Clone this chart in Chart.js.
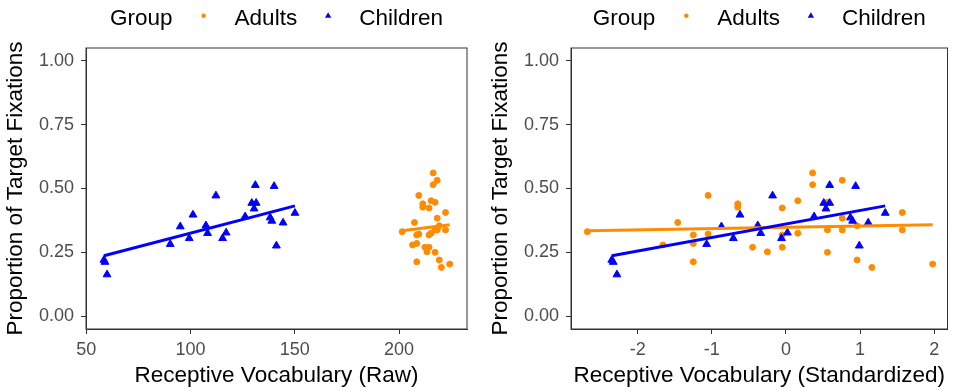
<!DOCTYPE html>
<html>
<head>
<meta charset="utf-8">
<script src="https://cdn.jsdelivr.net/npm/chart.js@4.4.1/dist/chart.umd.min.js"></script>
<style>
  html, body { margin: 0; padding: 0; background: #fff; }
  #wrap { position: relative; width: 953px; height: 391px; }
  #rawChart { position: absolute; left: 0; top: 0; }
  #zChart { position: absolute; left: 476px; top: 0; }
</style>
</head>
<body>
<div id="wrap">
  <canvas id="rawChart" width="476" height="391"></canvas>
  <canvas id="zChart" width="477" height="391"></canvas>
</div>
<script>
const groups = ['Adults', 'Children'];
const yTicks = [0, 0.25, 0.5, 0.75, 1];
const rawTicks = [50, 100, 150, 200];
const zTicks = [-2, -1, 0, 1, 2];

// children
const childRaw = [58.5, 59.0, 60.0, 90.3, 95.1, 99.4, 101.2, 107.4, 108.2, 112.2, 115.4, 117.1,
    126.2, 129.4, 131.5, 130.5, 131.1, 138.2, 139.0, 140.1, 141.2, 144.4, 150.1];
const childZ = [-2.35, -2.33, -2.28, -1.07, -0.87, -0.71, -0.62, -0.38, -0.34, -0.18, -0.06, 0.02,
    0.38, 0.51, 0.59, 0.54, 0.59, 0.87, 0.90, 0.94, 0.99, 1.11, 1.34];
const childProp = [0.220, 0.212, 0.163, 0.282, 0.351, 0.305, 0.397, 0.355, 0.325, 0.472, 0.305, 0.327,
    0.390, 0.443, 0.443, 0.421, 0.513, 0.386, 0.373, 0.509, 0.276, 0.366, 0.404];

// adults
const adultRaw = [201.5, 206.5, 207.4, 208.5, 208.5, 208.5, 209.5, 209.5, 211.4, 211.4, 212.4, 213.4,
    214.4, 214.4, 214.4, 215.4, 215.4, 216.4, 216.4, 217.3, 217.3, 217.3, 218.3, 218.3, 218.3,
    219.3, 219.3, 220.3, 222.3, 222.3, 224.3];
const adultZ = [-2.68, -1.66, -1.46, -1.25, -1.25, -1.25, -1.05, -1.05, -0.65, -0.65, -0.45, -0.25,
    -0.05, -0.05, -0.05, 0.16, 0.16, 0.36, 0.36, 0.56, 0.56, 0.56, 0.76, 0.76, 0.76,
    0.96, 0.96, 1.16, 1.57, 1.57, 1.98];
const adultProp = [0.331, 0.279, 0.367, 0.318, 0.285, 0.213, 0.473, 0.322, 0.440, 0.427, 0.270, 0.252,
    0.424, 0.318, 0.270, 0.452, 0.325, 0.561, 0.515, 0.446, 0.338, 0.250, 0.532, 0.384, 0.338,
    0.354, 0.220, 0.191, 0.406, 0.338, 0.204];

// fitted lines, end points
const childFitRaw = [58.5, 150.1];
const childFitZ = [-2.35, 1.34];
const childFitProp = [0.237, 0.432];
const adultFitRaw = [201.5, 224.3];
const adultFitZ = [-2.68, 1.98];
const adultFitProp = [0.335, 0.358];

const orange = '#FF8C00';
const blue = '#0000FF';
const family = '"Liberation Sans", Arial, sans-serif';
const titleFont = { family: family, size: 22.5 };
const tickFont = { family: family, size: 18 };

const pts = (xs, ys) => xs.map((x, i) => ({ x: x, y: ys[i] }));

// full panel border
const framePlugin = {
    id: 'frame',
    afterDraw(chart) {
        const { ctx, chartArea: a } = chart;
        ctx.save();
        ctx.strokeStyle = '#333333';
        ctx.lineWidth = 1;
        ctx.strokeRect(a.left, a.top, a.right - a.left, a.bottom - a.top);
        ctx.restore();
    }
};

// ggplot style legend: "Group  • Adults  ▲ Children" in one row over the panel
const groupLegend = {
    id: 'groupLegend',
    afterDraw(chart) {
        const { ctx, chartArea: a } = chart;
        ctx.save();
        ctx.font = '22.5px ' + family;
        ctx.fillStyle = '#000';
        ctx.textBaseline = 'alphabetic';
        const gap = 31;
        let total = ctx.measureText('Group').width;
        groups.forEach(g => { total += 2 * gap + ctx.measureText(g).width; });
        let x = (a.left + a.right) / 2 - total / 2;
        ctx.fillText('Group', x, 25);
        x += ctx.measureText('Group').width;
        groups.forEach((g, i) => {
            const cx = x + gap;
            ctx.fillStyle = i === 0 ? orange : blue;
            ctx.beginPath();
            if (i === 0) {
                ctx.arc(cx, 15.7, 2.3, 0, Math.PI * 2);
            } else {
                ctx.moveTo(cx, 12.2);
                ctx.lineTo(cx + 3.2, 17.8);
                ctx.lineTo(cx - 3.2, 17.8);
                ctx.closePath();
            }
            ctx.fill();
            ctx.fillStyle = '#000';
            ctx.fillText(g, cx + gap, 25);
            x = cx + gap + ctx.measureText(g).width;
        });
        ctx.restore();
    }
};

function makeChart(id, xTitle, xMin, xMax, xTicks, childX, adultX, childFitX, adultFitX, padLeft, padRight) {
    const ctx = document.getElementById(id).getContext('2d');
    return new Chart(ctx, {
        type: 'scatter',
        data: {
            datasets: [
                {
                    label: 'Children fit',
                    data: pts(childFitX, childFitProp),
                    showLine: true,
                    borderColor: blue,
                    borderWidth: 3,
                    pointRadius: 0
                },
                {
                    label: 'Adults fit',
                    data: pts(adultFitX, adultFitProp),
                    showLine: true,
                    borderColor: orange,
                    borderWidth: 3,
                    pointRadius: 0
                },
                {
                    label: groups[1],
                    data: pts(childX, childProp),
                    pointStyle: 'triangle',
                    pointRadius: 4.5,
                    pointBorderWidth: 1,
                    backgroundColor: blue,
                    borderColor: blue
                },
                {
                    label: groups[0],
                    data: pts(adultX, adultProp),
                    pointStyle: 'circle',
                    pointRadius: 3,
                    pointBorderWidth: 1,
                    backgroundColor: orange,
                    borderColor: orange
                }
            ]
        },
        options: {
            responsive: false,
            animation: false,
            layout: { padding: { top: 48, left: padLeft, right: padRight, bottom: 0 } },
            plugins: {
                legend: { display: false },
                tooltip: { enabled: false }
            },
            scales: {
                x: {
                    type: 'linear',
                    min: xMin,
                    max: xMax,
                    afterBuildTicks: s => { s.ticks = xTicks.map(v => ({ value: v })); },
                    afterFit: s => { s.height = 62; },
                    ticks: { color: '#4d4d4d', font: tickFont, padding: 5, maxRotation: 0 },
                    grid: { drawOnChartArea: false, tickLength: 5, color: '#333333' },
                    border: { color: '#333333', width: 1 },
                    title: { display: true, text: xTitle, color: '#000', font: titleFont, padding: { top: 0, bottom: 2 } }
                },
                y: {
                    type: 'linear',
                    min: -0.05,
                    max: 1.05,
                    afterBuildTicks: s => { s.ticks = yTicks.map(v => ({ value: v })); },
                    afterFit: s => { s.width = 86; },
                    ticks: { color: '#4d4d4d', font: tickFont, padding: 7, callback: v => v.toFixed(2) },
                    grid: { drawOnChartArea: false, tickLength: 5, color: '#333333' },
                    border: { color: '#333333', width: 1 },
                    title: { display: true, text: 'Proportion of Target Fixations', color: '#000', font: titleFont, padding: { top: 2, bottom: 0 } }
                }
            }
        },
        plugins: [framePlugin, groupLegend]
    });
}

makeChart('rawChart', 'Receptive Vocabulary (Raw)', 49.9, 232.6, rawTicks,
    childRaw, adultRaw, childFitRaw, adultFitRaw, 0, 9);
makeChart('zChart', 'Receptive Vocabulary (Standardized)', -2.90, 2.18, zTicks,
    childZ, adultZ, childFitZ, adultFitZ, 9, 2.5);
</script>
</body>
</html>
